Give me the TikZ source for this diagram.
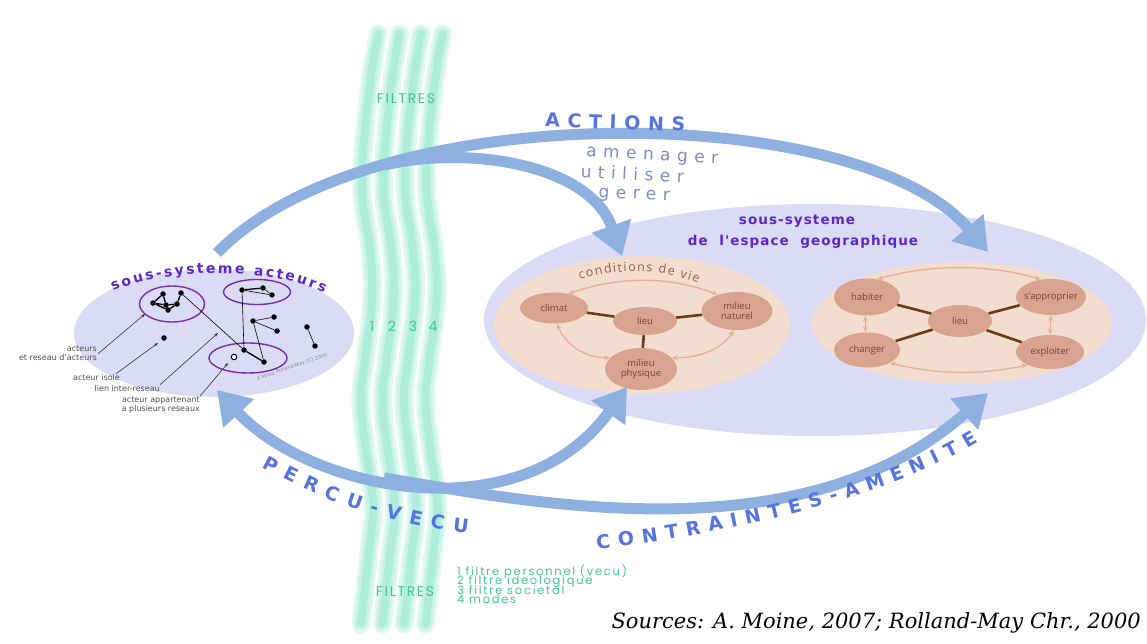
\documentclass[tikz,border=0pt]{standalone}
\usepackage{fontspec}
\setmainfont{DejaVu Sans}
\newfontfamily\titlef[LetterSpace=8]{DejaVu Sans}
\newfontfamily\actf[LetterSpace=40]{DejaVu Sans}
\newfontfamily\softf[LetterSpace=38]{DejaVu Sans}
\newfontfamily\nodef{Open Sans}
\newfontfamily\filtf[LetterSpace=12]{Poppins}
\newfontfamily\legf[LetterSpace=15]{Poppins}
\newfontfamily\srcf{DejaVu Serif}
\usetikzlibrary{arrows.meta,decorations.text,shapes.geometric}
\definecolor{lav}{RGB}{219,219,246}
\definecolor{peach}{RGB}{243,221,207}
\definecolor{salmon}{RGB}{216,163,143}
\definecolor{nodetext}{RGB}{120,70,50}
\definecolor{condtext}{RGB}{150,95,70}
\definecolor{brownline}{RGB}{105,60,25}
\definecolor{lightarr}{RGB}{228,175,155}
\definecolor{arrblue}{RGB}{142,176,224}
\definecolor{titlepurple}{RGB}{90,40,200}
\definecolor{ringpurple}{RGB}{115,45,175}
\definecolor{textblue}{RGB}{85,115,225}
\definecolor{softblue}{RGB}{125,140,195}
\definecolor{mint}{RGB}{150,232,208}
\definecolor{filtgreen}{RGB}{70,195,150}
\definecolor{labgray}{RGB}{80,80,80}
\begin{document}
\begin{tikzpicture}[x=1pt,y=-1pt,
  bigtip/.tip={Triangle[width=40pt,length=32pt]},
  bluearrow/.style={draw=arrblue,line width=11pt},
  strandA/.style={draw=mint!28,line width=19pt,line cap=round},
  strandB/.style={draw=mint!50,line width=14pt,line cap=round},
  strandC/.style={draw=mint!78,line width=8pt,line cap=round},
  netdot/.style={circle,fill=black,inner sep=0pt,minimum size=5.5pt},
  opendot/.style={circle,draw=black,fill=white,line width=1pt,inner sep=0pt,minimum size=5.5pt},
  netring/.style={ellipse,draw=ringpurple,line width=1.4pt,inner sep=0pt},
  netlink/.style={draw=black,line width=0.6pt},
  netlinkB/.style={draw=black,line width=1.3pt},
  pointer/.style={draw=black!80,line width=0.6pt,-{Stealth[length=4pt,width=3pt]}},
  labeltext/.style={font=\fontsize{8}{8}\selectfont,text=labgray,inner sep=0pt},
  subnode/.style={ellipse,fill=salmon,inner sep=0pt},
  subtext/.style={font=\nodef\fontsize{9.5}{10.5}\selectfont,text=nodetext,align=center,inner sep=0pt},
  tie/.style={draw=brownline,line width=2.6pt},
  twoway/.style={draw=lightarr,line width=1.3pt,{Stealth[length=6pt,width=5pt]}-{Stealth[length=6pt,width=5pt]}},
  filt/.style={text=filtgreen,inner sep=0pt},
]
\useasboundingbox (0,0) rectangle (1147,644);
\fill[white] (0,0) rectangle (1147,644);

% filter strands
\foreach \o in {0,21.5,43,64.5}{
  \draw[strandA,xshift=\o pt] plot[smooth,tension=0.7] coordinates {(378,34) (372,70) (365,130) (362,190) (370,250) (372,300) (365,360) (361,400) (366,450) (373,505) (368,560) (361,624)};
  \draw[strandB,xshift=\o pt] plot[smooth,tension=0.7] coordinates {(378,34) (372,70) (365,130) (362,190) (370,250) (372,300) (365,360) (361,400) (366,450) (373,505) (368,560) (361,624)};
  \draw[strandC,xshift=\o pt] plot[smooth,tension=0.7] coordinates {(378,34) (372,70) (365,130) (362,190) (370,250) (372,300) (365,360) (361,400) (366,450) (373,505) (368,560) (361,624)};
}

% ellipses
\node[ellipse,fill=lav,minimum width=662pt,minimum height=232pt,inner sep=0pt] (geo) at (815,320) {};
\node[ellipse,fill=peach,minimum width=296pt,minimum height=138pt,inner sep=0pt] (cond) at (642,325) {};
\node[ellipse,fill=peach,minimum width=300pt,minimum height=122pt,inner sep=0pt] (habit) at (962,323) {};
\node[ellipse,fill=lav,minimum width=280pt,minimum height=128pt,inner sep=0pt] (acteurs) at (214,333) {};

% blue arrows
\coordinate (aStart) at (217,253);
\coordinate (aJoin) at (385,165);
\coordinate (aTipR) at (988,252);
\coordinate (aTipC) at (622,256);
\coordinate (pTipL) at (217,390);
\coordinate (pTipC) at (627,387);
\coordinate (cJoin) at (384,478);
\coordinate (cTipR) at (988,393);
\draw[bluearrow,-bigtip] (aStart) .. controls (370,95) and (860,100) .. (aTipR);
\draw[bluearrow,-bigtip] (aJoin) .. controls (470,145) and (590,165) .. (aTipC);
\draw[bluearrow,bigtip-bigtip] (pTipL) .. controls (310,490) and (520,535) .. (pTipC);
\draw[bluearrow,-bigtip] (cJoin) .. controls (520,500) and (800,560) .. (cTipR);

% arrow texts
\node[anchor=base,font=\actf\bfseries\fontsize{19}{19}\selectfont,text=textblue,rotate=-2] (actions) at (615,129) {ACTIONS};
\node[anchor=base,font=\softf\fontsize{17}{17}\selectfont,text=softblue,rotate=-3] (amen) at (652,160) {amenager};
\node[anchor=base,font=\softf\fontsize{17}{17}\selectfont,text=softblue,rotate=-3] (util) at (632,180) {utiliser};
\node[anchor=base,font=\softf\fontsize{17}{17}\selectfont,text=softblue,rotate=-3] (gerer) at (634,199) {gerer};
\path[decorate,decoration={text along path,text={|\bfseries\fontsize{19}{19}\selectfont|PERCU-VECU},text align={fit to path},text color=textblue}]
  (262,467) .. controls (320,500) and (390,525) .. (468,533);
\path[decorate,decoration={text along path,text={|\bfseries\fontsize{19}{19}\selectfont|CONTRAINTES-AMENITE},text align={fit to path},text color=textblue}]
  (597,549) .. controls (760,530) and (900,490) .. (978,442);

% filters text
\node[filt,anchor=base,font=\filtf\fontsize{14}{14}\selectfont] (filtTop) at (406,104) {FILTRES};
\node[filt,anchor=base,font=\filtf\fontsize{14}{14}\selectfont] (f1) at (372,331) {1};
\node[filt,anchor=base,font=\filtf\fontsize{14}{14}\selectfont] (f2) at (392,331) {2};
\node[filt,anchor=base,font=\filtf\fontsize{14}{14}\selectfont] (f3) at (413,331) {3};
\node[filt,anchor=base,font=\filtf\fontsize{14}{14}\selectfont] (f4) at (433,331) {4};
\node[filt,anchor=base,font=\filtf\fontsize{14}{14}\selectfont] (filtBot) at (405,596) {FILTRES};
\node[filt,anchor=base west,font=\legf\fontsize{11.5}{11.5}\selectfont] (leg1) at (457,575) {1 filtre personnel (vecu)};
\node[filt,anchor=base west,font=\legf\fontsize{11.5}{11.5}\selectfont] (leg2) at (457,584.5) {2 filtre ideologique};
\node[filt,anchor=base west,font=\legf\fontsize{11.5}{11.5}\selectfont] (leg3) at (457,594) {3 filtre societal};
\node[filt,anchor=base west,font=\legf\fontsize{11.5}{11.5}\selectfont] (leg4) at (457,603.5) {4 modes};

% sources
\node[anchor=base east,inner sep=0pt,font=\srcf\itshape\fontsize{21}{21}\selectfont] (src) at (1141,628) {Sources: A. Moine, 2007; Rolland-May Chr., 2000};

% actors subsystem
\path[decorate,decoration={text along path,text={|\bfseries\fontsize{14}{14}\selectfont|sous-systeme  acteurs},text align={fit to path},text color=titlepurple}]
  (113,291) .. controls (170,267) and (270,267) .. (324,293);
\node[netring,minimum width=65pt,minimum height=36pt] (ring1) at (172,304) {};
\node[netring,minimum width=67pt,minimum height=25pt] (ring2) at (257,292) {};
\node[netring,minimum width=78pt,minimum height=30pt] (ring3) at (248,358) {};
\node[netdot] (n1a) at (163,294) {};
\node[netdot] (n1b) at (181,293) {};
\node[netdot] (n1c) at (153,303) {};
\node[netdot] (n1d) at (166,305) {};
\node[netdot] (n1e) at (177,304) {};
\node[netdot] (n1f) at (168,310) {};
\node[netdot] (n2a) at (242,290) {};
\node[netdot] (n2b) at (263,288) {};
\node[netdot] (n2c) at (272,295) {};
\node[netdot] (n4a) at (253,321) {};
\node[netdot] (n4b) at (274,317) {};
\node[netdot] (n4c) at (277,331) {};
\node[netdot] (n5a) at (307,327) {};
\node[netdot] (n5b) at (315,346) {};
\node[netdot] (n3a) at (244,350) {};
\node[netdot] (n3b) at (264,362) {};
\node[opendot] (n3c) at (234,357) {};
\node[netdot] (niso) at (164,338) {};
\draw[netlinkB] (n1c) -- (n1a) -- (n1d) -- (n1c) -- (n1f) -- (n1d) -- (n1e) -- (n1f);
\draw[netlinkB] (n1e) -- (n1b);
\draw[netlink] (n1b) -- (n3a);
\draw[netlinkB] (n2a) -- (n2b);
\draw[netlink] (n2b) -- (n2c) -- (n2a);
\draw[netlink] (n2a) -- (n3a);
\draw[netlink] (n4b) -- (n4a) -- (n4c);
\draw[netlink] (n4a) -- (n3b);
\draw[netlink] (n5a) -- (n5b);
\draw[netlinkB] (n3a) -- (n3b);
\node[rotate=19,inner sep=0pt,font=\fontsize{5}{5}\selectfont,text=black!45] (wm) at (292,367) {d'apres Rolland-May (C) 2000};

\node[labeltext,anchor=base east] (lab1) at (97,351) {acteurs};
\node[labeltext,anchor=base east] (lab2) at (97,360) {et reseau d'acteurs};
\node[labeltext,anchor=base east] (lab3) at (120,380) {acteur isole};
\node[labeltext,anchor=base east] (lab4) at (160,391) {lien inter-reseau};
\node[labeltext,anchor=base east] (lab5) at (200,402) {acteur appartenant};
\node[labeltext,anchor=base east] (lab6) at (200,411) {a plusieurs reseaux};
\coordinate (t1) at (145,314);
\coordinate (t3) at (158,343);
\coordinate (t4) at (218,333);
\coordinate (t5) at (228,363);
\draw[pointer] ([xshift=1pt]lab2.north east) -- (t1);
\draw[pointer] ([xshift=-4pt]lab3.north east) -- (t3);
\draw[pointer] (lab4.north east) -- (t4);
\draw[pointer] (lab5.north east) -- (t5);

% geographic space subsystem
\node[anchor=base,inner sep=0pt,font=\titlef\bfseries\fontsize{13.5}{13.5}\selectfont,text=titlepurple] (geoT1) at (797,225) {sous-systeme};
\node[anchor=base,inner sep=0pt,font=\titlef\bfseries\fontsize{13.5}{13.5}\selectfont,text=titlepurple] (geoT2) at (803,245) {de\ \ l'espace\ \ geographique};

\path[decorate,decoration={text along path,text={|\nodef\fontsize{12.5}{12.5}\selectfont|conditions de vie},text align={fit to path},text color=condtext}]
  (580,280) .. controls (615,268) and (660,268) .. (698,283);

\node[subnode,minimum width=68pt,minimum height=31pt,label={[subtext]center:climat}] (climat) at (554,308) {};
\node[subnode,minimum width=64pt,minimum height=28pt,label={[subtext]center:lieu}] (lieuA) at (645,321) {};
\node[subnode,minimum width=71pt,minimum height=38pt,label={[subtext]center:{milieu\\naturel}}] (natur) at (737,311) {};
\node[subnode,minimum width=72pt,minimum height=42pt,label={[subtext]center:{milieu\\physique}}] (phys) at (641,369) {};
\draw[tie] (climat) -- (lieuA);
\draw[tie] (lieuA) -- (natur);
\draw[tie] (lieuA) -- (phys);
\draw[twoway] (climat.45) .. controls (620,276) and (670,276) .. (natur.140);
\draw[twoway] (climat.-80) .. controls (566,345) and (585,358) .. (phys.160);
\draw[twoway] (natur.-100) .. controls (725,345) and (705,358) .. (phys.20);

\node[subnode,minimum width=66pt,minimum height=37pt,label={[subtext]center:habiter}] (hab) at (867,297) {};
\node[subnode,minimum width=70pt,minimum height=36pt,label={[subtext]center:s'approprier}] (sapp) at (1051,297) {};
\node[subnode,minimum width=64pt,minimum height=32pt,label={[subtext]center:lieu}] (lieuB) at (960,321) {};
\node[subnode,minimum width=66pt,minimum height=35pt,label={[subtext]center:changer}] (chg) at (867,350) {};
\node[subnode,minimum width=68pt,minimum height=34pt,label={[subtext]center:exploiter}] (expl) at (1050,352) {};
\draw[tie] (hab) -- (lieuB);
\draw[tie] (sapp) -- (lieuB);
\draw[tie] (chg) -- (lieuB);
\draw[tie] (expl) -- (lieuB);
\draw[twoway] (hab.60) .. controls (930,264) and (990,264) .. (sapp.120);
\draw[twoway] (chg.-30) .. controls (940,375) and (980,375) .. (expl.-150);
\draw[twoway] (hab.-95) -- (chg.95);
\draw[twoway] (sapp.-90) -- (expl.90);
\end{tikzpicture}
\end{document}
